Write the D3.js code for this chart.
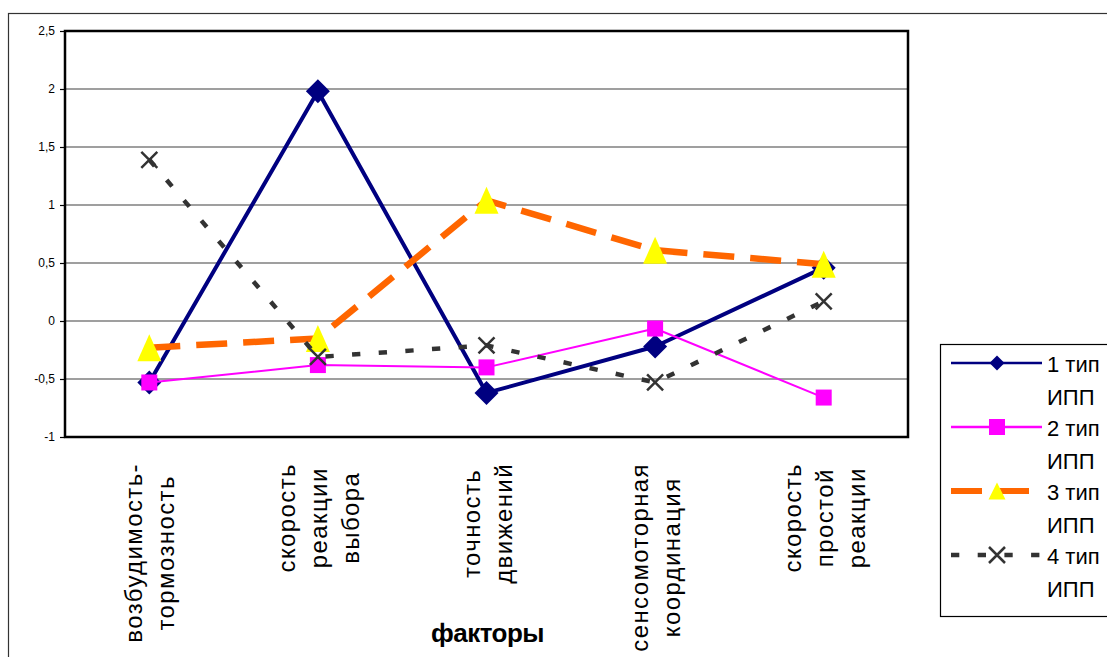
<!DOCTYPE html>
<html>
<head>
<meta charset="utf-8">
<script src="https://cdn.jsdelivr.net/npm/d3@7"></script>
<style>
  body { margin: 0; background: #fff; }
  svg { display: block; font-family: Arial, "Liberation Sans", sans-serif; }
</style>
</head>
<body>
<div id="chart"></div>
<script>
// Chart size
const width = 1107;
const height = 657;

// Categories (each one already split into the lines it is drawn on)
const categories = [
  ["возбудимость-", "тормозность"],
  ["скорость", "реакции", "выбора"],
  ["точность", "движений"],
  ["сенсомоторная", "координация"],
  ["скорость", "простой", "реакции"]
];

// Series values
const type1 = [-0.53, 1.98, -0.62, -0.22, 0.46];
const type2 = [-0.53, -0.38, -0.40, -0.065, -0.66];
const type3 = [-0.23, -0.15, 1.04, 0.61, 0.49];
const type4 = [1.39, -0.31, -0.21, -0.53, 0.17];

const seriesNames = ["1 тип ИПП", "2 тип ИПП", "3 тип ИПП", "4 тип ИПП"];
const yTicks = [-1, -0.5, 0, 0.5, 1, 1.5, 2, 2.5];
const xTitle = "факторы";

// How each series looks
const styles = [
  { color: "#000080", width: 4, dash: null, marker: "diamond", fill: "#000080" },
  { color: "#ff00ff", width: 2, dash: null, marker: "square", fill: "#ff00ff" },
  { color: "#ff6600", width: 6.5, dash: "31,16", marker: "triangle", fill: "#ffff00" },
  { color: "#333333", width: 4.5, dash: "8.3,18.4", marker: "x", fill: "none" }
];
const seriesData = [type1, type2, type3, type4];

// Plot area
const plot = { left: 65, right: 908, top: 31, bottom: 437 };

const svg = d3.select("#chart").append("svg")
  .attr("width", width)
  .attr("height", height);

// Outer frame of the chart (runs off the right and bottom edges)
svg.append("rect")
  .attr("x", 8.5).attr("y", 13.5)
  .attr("width", 1300).attr("height", 800)
  .attr("fill", "none").attr("stroke", "#333").attr("stroke-width", 1.2);

const x = d3.scalePoint()
  .domain(d3.range(categories.length))
  .range([plot.left, plot.right])
  .padding(0.5);

const y = d3.scaleLinear()
  .domain([-1, 2.5])
  .range([plot.bottom, plot.top]);

// Gridlines
svg.append("g")
  .selectAll("line")
  .data(yTicks)
  .join("line")
  .attr("x1", plot.left).attr("x2", plot.right)
  .attr("y1", d => y(d)).attr("y2", d => y(d))
  .attr("stroke", "#404040").attr("stroke-width", 1.2);

// Y axis
const yAxis = svg.append("g")
  .attr("transform", `translate(${plot.left},0)`)
  .call(d3.axisLeft(y).tickValues(yTicks).tickSize(5).tickPadding(5)
    .tickFormat(d => String(d).replace(".", ",")));
yAxis.select(".domain").remove();
yAxis.selectAll(".tick line").attr("stroke", "#000").attr("stroke-width", 1.2);
yAxis.selectAll(".tick text")
  .attr("font-size", 12)
  .attr("font-family", "Arial, 'Liberation Sans', sans-serif")
  .attr("fill", "#000");

// Plot border
svg.append("rect")
  .attr("x", plot.left).attr("y", plot.top)
  .attr("width", plot.right - plot.left).attr("height", plot.bottom - plot.top)
  .attr("fill", "none").attr("stroke", "#000").attr("stroke-width", 2.5);

// Marker shapes
function markerPath(type, big) {
  if (type === "diamond") { const s = big ? 12 : 7.5; return `M0,${-s}L${s},0L0,${s}L${-s},0Z`; }
  if (type === "square") { const s = 8; return `M${-s},${-s}H${s}V${s}H${-s}Z`; }
  if (type === "triangle") {
    const w = big ? 24 : 17, h = big ? 27 : 17;
    return `M0,${-h / 2}L${w / 2},${h / 2}L${-w / 2},${h / 2}Z`;
  }
  const s = 8; return `M${-s},${-s}L${s},${s}M${s},${-s}L${-s},${s}`;
}
function drawMarker(g, st, big) {
  g.append("path")
    .attr("d", markerPath(st.marker, big))
    .attr("fill", st.fill)
    .attr("stroke", st.marker === "x" ? st.color : "none")
    .attr("stroke-width", st.marker === "x" ? 2.5 : 0);
}

// Lines and markers
const line = d3.line().x((d, i) => x(i)).y(d => y(d));
seriesData.forEach((vals, s) => {
  const st = styles[s];
  const g = svg.append("g");
  g.append("path")
    .datum(vals)
    .attr("d", line)
    .attr("fill", "none")
    .attr("stroke", st.color)
    .attr("stroke-width", st.width)
    .attr("stroke-dasharray", st.dash)
    .attr("stroke-linejoin", "round");
  vals.forEach((v, i) => {
    drawMarker(g.append("g").attr("transform", `translate(${x(i)},${y(v)})`), st, true);
  });
});

// Category labels, rotated, lines centred inside a block that hangs from the axis
const labelTop = 463;
const lineStep = 32;
categories.forEach((lines, i) => {
  const g = svg.append("g");
  const texts = lines.map(t => g.append("text")
    .text(t)
    .attr("font-size", 24)
    .attr("letter-spacing", 1.4)
    .attr("text-anchor", "middle")
    .attr("fill", "#000"));
  const maxLen = d3.max(texts, t => t.node().getComputedTextLength());
  const cy = labelTop + maxLen / 2;
  const blockLeft = x(i) - lines.length * lineStep / 2;
  texts.forEach((t, k) => {
    const bx = blockLeft + k * lineStep + 25;
    t.attr("transform", `translate(${bx},${cy}) rotate(-90)`);
  });
});

// Axis title
svg.append("text")
  .attr("x", (plot.left + plot.right) / 2 + 1)
  .attr("y", 642)
  .attr("text-anchor", "middle")
  .attr("font-size", 26)
  .attr("font-weight", "bold")
  .attr("letter-spacing", -0.5)
  .text(xTitle);

// Legend
svg.append("rect")
  .attr("x", 940.5).attr("y", 344.5)
  .attr("width", 300).attr("height", 272)
  .attr("fill", "#fff").attr("stroke", "#000").attr("stroke-width", 1.2);

seriesNames.forEach((name, s) => {
  const st = styles[s];
  const ly = 363 + s * 64;
  const g = svg.append("g");
  g.append("line")
    .attr("x1", 951).attr("x2", 1042)
    .attr("y1", ly).attr("y2", ly)
    .attr("stroke", st.color)
    .attr("stroke-width", s === 2 ? 6 : (s === 3 ? 4.5 : 2.5))
    .attr("stroke-dasharray", st.dash);
  drawMarker(g.append("g").attr("transform", `translate(997,${ly})`), st, false);
  const parts = name.split(" ");
  g.append("text")
    .attr("x", 1047).attr("y", ly + 8.5)
    .attr("font-size", 22)
    .text(parts.slice(0, 2).join(" "));
  g.append("text")
    .attr("x", 1047).attr("y", ly + 42)
    .attr("font-size", 22)
    .text(parts[2]);
});
</script>
</body>
</html>
